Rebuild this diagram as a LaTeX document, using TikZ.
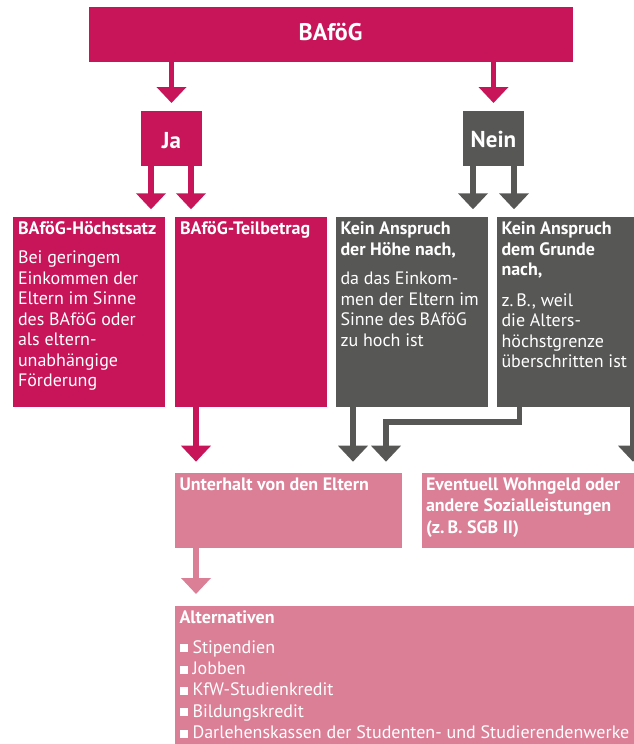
\documentclass[tikz,border=0pt]{standalone}
\usepackage{fontspec}
\setmainfont{PT Sans}
\usetikzlibrary{arrows.meta,calc}
\definecolor{mag}{RGB}{200,21,90}
\definecolor{grau}{RGB}{87,87,86}
\definecolor{rosa}{RGB}{219,127,150}
\newcommand{\bul}{\raisebox{1pt}{\rule{8pt}{8pt}}\hspace{5pt}}
\begin{document}
\begin{tikzpicture}[x=1pt,y=-1pt,
  box/.style={rectangle, inner sep=0pt, outer sep=0pt, anchor=north west},
  txt/.style={inner sep=0pt, outer sep=0pt, anchor=base west, text=white,
    font=\fontsize{18}{20.5}\selectfont},
  arr/.style={line width=5.7pt, -{Triangle[width=29pt,length=16pt]}},
]
\useasboundingbox (0,0) rectangle (634,744);
\clip (0,0) rectangle (634,744);

% boxes
\node[box, fill=mag, minimum width=484pt, minimum height=55pt] (bafog) at (89,6.7) {};
\node[box, fill=mag, minimum width=61pt, minimum height=55pt] (ja) at (141,111) {};
\node[box, fill=grau, minimum width=61pt, minimum height=55pt] (nein) at (463,111) {};
\node[box, fill=mag, minimum width=152.3pt, minimum height=189.4pt] (hoechst) at (12.7,217.3) {};
\node[box, fill=mag, minimum width=151.7pt, minimum height=189.4pt] (teil) at (175,217.3) {};
\node[box, fill=grau, minimum width=151.7pt, minimum height=189.4pt] (hoehe) at (336,217.3) {};
\node[box, fill=grau, minimum width=150pt, minimum height=189.4pt] (grunde) at (497,217.3) {};
\node[box, fill=rosa, minimum width=227pt, minimum height=75.6pt] (unterhalt) at (175,472.7) {};
\node[box, fill=rosa, minimum width=220pt, minimum height=75.6pt] (eventuell) at (422,472.7) {};
\node[box, fill=rosa, minimum width=470pt, minimum height=140pt] (alt) at (175,606) {};

% titles
\node[inner sep=0pt, anchor=base, text=white, font=\bfseries\fontsize{24}{28}\selectfont] (bafogT) at (330.5,40) {BAföG};
\node[inner sep=0pt, anchor=base, text=white, font=\bfseries\fontsize{23}{27}\selectfont] (jaT) at (171.5,148) {Ja};
\node[inner sep=0pt, anchor=base, text=white, font=\bfseries\fontsize{23}{27}\selectfont] (neinT) at (493.5,147.5) {Nein};

% texts
\node[txt] (hoechstT) at (18,234.7) {\parbox[t]{160pt}{\raggedright\bfseries BAföG-Höchstsatz\\[8.6pt]\mdseries Bei geringem\\Einkommen der\\Eltern im Sinne\\des BAföG oder\\als eltern-\\unabhängige\\Förderung}};
\node[txt] (teilT) at (180,234.7) {\parbox[t]{160pt}{\raggedright\bfseries BAföG-Teilbetrag}};
\node[txt] (hoeheT) at (340.5,234.7) {\parbox[t]{160pt}{\raggedright\bfseries Kein Anspruch\\der Höhe nach,\\[8.8pt]\mdseries da das Einkom-\\men der Eltern im\\Sinne des BAföG\\zu hoch ist}};
\node[txt] (grundeT) at (501.5,234.7) {\parbox[t]{160pt}{\raggedright\bfseries Kein Anspruch\\dem Grunde\\nach,\\[9.8pt]\mdseries z.\,B., weil\\die Alters-\\höchstgrenze\\überschritten ist}};
\node[txt] (unterhaltT) at (179.5,490) {\parbox[t]{240pt}{\raggedright\bfseries Unterhalt von den Eltern}};
\node[txt, font=\fontsize{18}{21.7}\selectfont] (eventuellT) at (426,490) {\parbox[t]{240pt}{\raggedright\bfseries Eventuell Wohngeld oder\\andere Sozialleistungen\\(z.\,B. SGB II)}};
\node[txt, font=\fontsize{18}{21.3}\selectfont] (altT) at (179.5,623.3) {\parbox[t]{460pt}{\raggedright\bfseries Alternativen\\[8.7pt]\mdseries \bul Stipendien\\\bul Jobben\\\bul KfW-Studienkredit\\\bul Bildungskredit\\\bul Darlehenskassen der Studenten- und Studierendenwerke}};

% connectors
\draw[arr, mag] (bafog.south -| ja) -- ($(ja.north)+(0,-8)$);
\draw[arr, mag] (bafog.south -| nein) -- ($(nein.north)+(0,-8)$);
\draw[arr, mag] ($(ja.south)+(-20.5,0)$) -- ($(ja.south |- hoechst.north)+(-20.5,-8)$);
\draw[arr, mag] ($(ja.south)+(19.5,0)$) -- ($(ja.south |- teil.north)+(19.5,-8)$);
\draw[arr, grau] ($(nein.south)+(-20.5,0)$) -- ($(nein.south |- hoehe.north)+(-20.5,-8)$);
\draw[arr, grau] ($(nein.south)+(20.5,0)$) -- ($(nein.south |- grunde.north)+(20.5,-8)$);
\draw[arr, mag] ($(teil.south west)+(21,0)$) -- ($(unterhalt.north west)+(21,-11)$);
\draw[arr, grau] ($(hoehe.south west)+(17,0)$) -- ($(hoehe.south west |- unterhalt.north)+(17,-11)$);
\draw[arr, grau] ($(grunde.south west)+(22.5,0)$) |- ($(unterhalt.north west)+(211,-51)$) -- ($(unterhalt.north west)+(211,-11)$);
\draw[arr, grau] ($(grunde.south west)+(136,0)$) -- ($(eventuell.north west)+(211,-11)$);
\draw[arr, rosa] ($(unterhalt.south west)+(21,0)$) -- ($(alt.north west)+(21,-12)$);
\end{tikzpicture}
\end{document}
